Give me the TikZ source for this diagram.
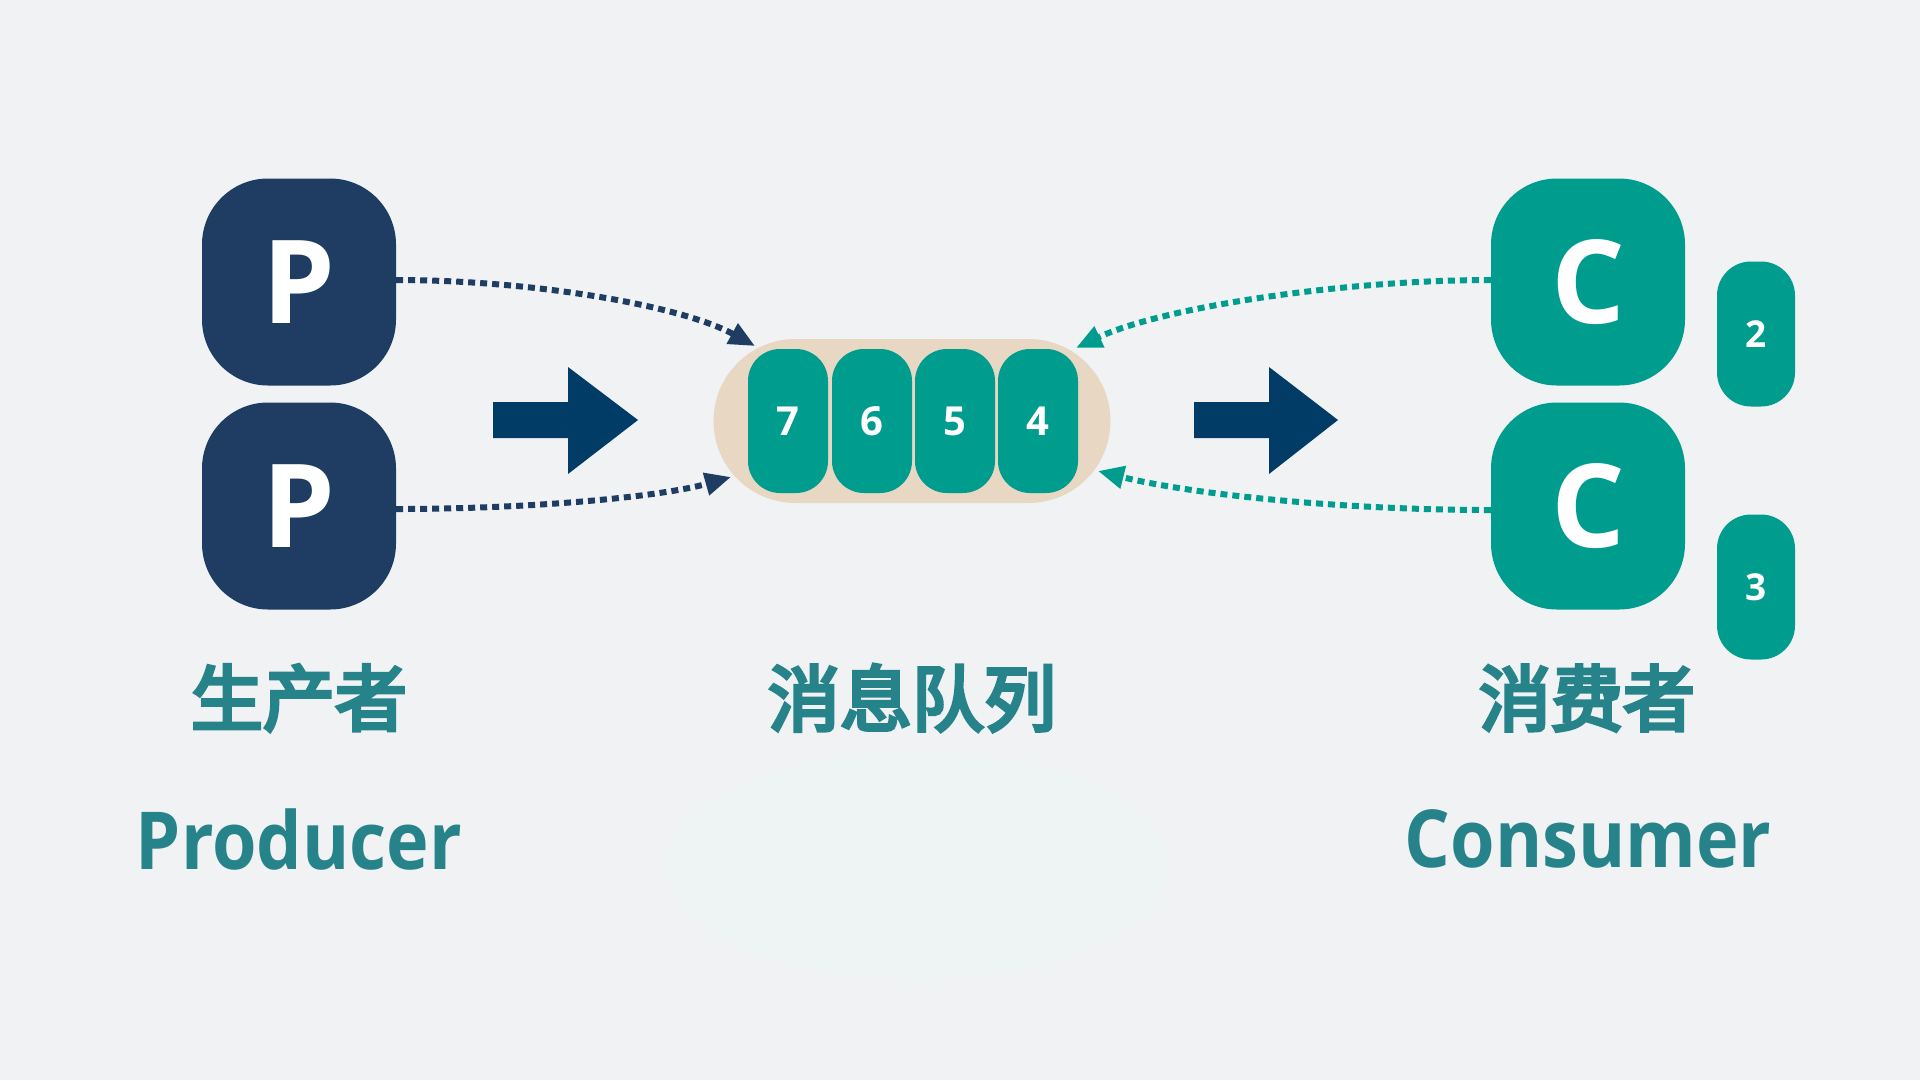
\documentclass[tikz,border=0pt]{standalone}
\usepackage{fontspec}
\setmainfont{Open Sans}
\newfontfamily\cjkb{Noto Sans CJK SC}[FakeBold=5]
\usetikzlibrary{arrows.meta}
\definecolor{bgc}{HTML}{F0F2F4}
\definecolor{blobc}{HTML}{EEF3F3}
\definecolor{pblue}{HTML}{1F3D62}
\definecolor{abl}{HTML}{003C66}
\definecolor{teal}{HTML}{009C8E}
\definecolor{beige}{HTML}{E7D7C3}
\definecolor{lbl}{HTML}{27838A}
\tikzset{
  bigbox/.style={rectangle, rounded corners=66pt, minimum width=194pt, minimum height=207pt, inner sep=0pt, text=white, font=\bfseries\fontsize{116}{120}\selectfont},
  pbox/.style={bigbox, fill=pblue},
  cbox/.style={bigbox, fill=teal},
  cell/.style={rectangle, rounded corners=32pt, fill=teal, minimum width=80pt, minimum height=144pt, inner sep=0pt, text=white, font=\bfseries\fontsize{40}{44}\selectfont},
  smallbox/.style={rectangle, rounded corners=34pt, fill=teal, minimum width=78pt, minimum height=145pt, inner sep=0pt, text=white, font=\bfseries\fontsize{37}{40}\selectfont},
  cjklabel/.style={text=lbl, font=\cjkb\fontsize{72}{80}\selectfont, inner sep=0pt},
  enlabel/.style={text=lbl, font=\bfseries\fontsize{80}{88}\selectfont, inner sep=0pt, xscale=0.9, transform shape},
  dotconn/.style={line width=6pt, dash pattern=on 7pt off 5pt, -{Triangle[length=26pt, width=22pt]}},
  bigarrow/.style={fill=abl}
}
\begin{document}
\begin{tikzpicture}[x=1pt, y=-1pt]
\useasboundingbox (0,0) rectangle (1920,1080);
\fill[bgc] (0,0) rectangle (1920,1080);
\fill[blobc] (918,866) ellipse [x radius=251, y radius=113];

% producers
\node[pbox] (p1) at (299,282) {P};
\node[pbox] (p2) at (299,506) {P};

% consumers
\node[cbox] (c1) at (1588,282) {C};
\node[cbox] (c2) at (1588,506) {C};
\node[smallbox] (s2) at (1756,334) {2};
\node[smallbox] (s3) at (1756,587) {3};

% queue
\node[rectangle, rounded corners=82pt, fill=beige, minimum width=397pt, minimum height=164pt, inner sep=0pt] (q) at (912,421) {};
\node[cell] (m7) at (788,421) {7};
\node[cell] (m6) at (872,421) {6};
\node[cell] (m5) at (955,421) {5};
\node[cell] (m4) at (1038,421) {4};

% big arrows
\fill[bigarrow] (493,402) -- (568,402) -- (568,367) -- (638,420) -- (568,474) -- (568,438) -- (493,438) -- cycle;
\fill[bigarrow] (1194,402) -- (1269,402) -- (1269,367) -- (1338,420) -- (1269,474) -- (1269,438) -- (1194,438) -- cycle;

% connector endpoints on the queue
\coordinate (qa) at (755,346);
\coordinate (qb) at (731,477);
\coordinate (qc) at (1076,348);
\coordinate (qd) at (1098,471);

\draw[dotconn, pblue] (p1.east |- 0,280) .. controls (530,280) and (680,305) .. (qa);
\draw[dotconn, pblue] (p2.east |- 0,509) .. controls (530,509) and (660,497) .. (qb);
\draw[dotconn, teal] (c1.west |- 0,280) .. controls (1340,280) and (1160,308) .. (qc);
\draw[dotconn, teal] (c2.west |- 0,510) .. controls (1340,510) and (1190,494) .. (qd);

% labels
\node[cjklabel] (lp) at (299,698) {生产者};
\node[cjklabel] (lq) at (912,698) {消息队列};
\node[cjklabel] (lc) at (1587,698) {消费者};
\node[enlabel] (ep) at (299,839) {Producer};
\node[enlabel] (ec) at (1588,839) {Consumer};
\end{tikzpicture}
\end{document}
